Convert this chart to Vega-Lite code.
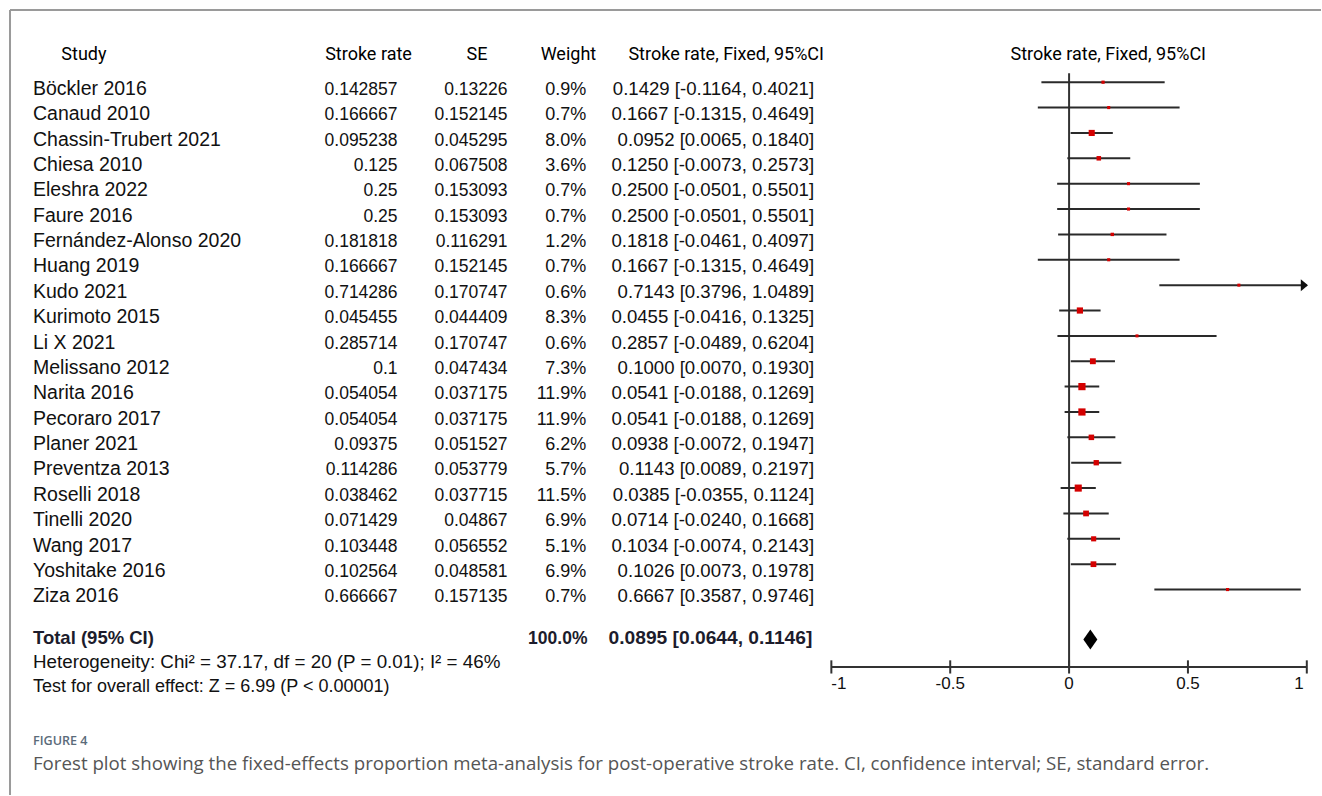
{
  "$schema": "https://vega.github.io/schema/vega-lite/v6.json",
  "width": 1322,
  "height": 796,
  "autosize": {"type": "fit", "contains": "padding"},
  "padding": 0,
  "background": "white",
  "config": {
    "view": {"stroke": null},
    "axis": {"disable": true},
    "legend": {"disable": true},
    "text": {"font": "Liberation Sans", "fontSize": 18, "color": "#111"}
  },
  "datasets": {
    "studies": [
      {"row": 1, "study": "Böckler 2016", "rate": 0.142857, "se": 0.13226, "weight": 0.009, "est": 0.1429, "lo": -0.1164, "hi": 0.4021, "ci": "0.1429 [-0.1164, 0.4021]"},
      {"row": 2, "study": "Canaud 2010", "rate": 0.166667, "se": 0.152145, "weight": 0.007, "est": 0.1667, "lo": -0.1315, "hi": 0.4649, "ci": "0.1667 [-0.1315, 0.4649]"},
      {"row": 3, "study": "Chassin-Trubert 2021", "rate": 0.095238, "se": 0.045295, "weight": 0.080, "est": 0.0952, "lo": 0.0065, "hi": 0.1840, "ci": "0.0952 [0.0065, 0.1840]"},
      {"row": 4, "study": "Chiesa 2010", "rate": 0.125, "se": 0.067508, "weight": 0.036, "est": 0.1250, "lo": -0.0073, "hi": 0.2573, "ci": "0.1250 [-0.0073, 0.2573]"},
      {"row": 5, "study": "Eleshra 2022", "rate": 0.25, "se": 0.153093, "weight": 0.007, "est": 0.2500, "lo": -0.0501, "hi": 0.5501, "ci": "0.2500 [-0.0501, 0.5501]"},
      {"row": 6, "study": "Faure 2016", "rate": 0.25, "se": 0.153093, "weight": 0.007, "est": 0.2500, "lo": -0.0501, "hi": 0.5501, "ci": "0.2500 [-0.0501, 0.5501]"},
      {"row": 7, "study": "Fernández-Alonso 2020", "rate": 0.181818, "se": 0.116291, "weight": 0.012, "est": 0.1818, "lo": -0.0461, "hi": 0.4097, "ci": "0.1818 [-0.0461, 0.4097]"},
      {"row": 8, "study": "Huang 2019", "rate": 0.166667, "se": 0.152145, "weight": 0.007, "est": 0.1667, "lo": -0.1315, "hi": 0.4649, "ci": "0.1667 [-0.1315, 0.4649]"},
      {"row": 9, "study": "Kudo 2021", "rate": 0.714286, "se": 0.170747, "weight": 0.006, "est": 0.7143, "lo": 0.3796, "hi": 1.0489, "ci": "0.7143 [0.3796, 1.0489]"},
      {"row": 10, "study": "Kurimoto 2015", "rate": 0.045455, "se": 0.044409, "weight": 0.083, "est": 0.0455, "lo": -0.0416, "hi": 0.1325, "ci": "0.0455 [-0.0416, 0.1325]"},
      {"row": 11, "study": "Li X 2021", "rate": 0.285714, "se": 0.170747, "weight": 0.006, "est": 0.2857, "lo": -0.0489, "hi": 0.6204, "ci": "0.2857 [-0.0489, 0.6204]"},
      {"row": 12, "study": "Melissano 2012", "rate": 0.1, "se": 0.047434, "weight": 0.073, "est": 0.1000, "lo": 0.0070, "hi": 0.1930, "ci": "0.1000 [0.0070, 0.1930]"},
      {"row": 13, "study": "Narita 2016", "rate": 0.054054, "se": 0.037175, "weight": 0.119, "est": 0.0541, "lo": -0.0188, "hi": 0.1269, "ci": "0.0541 [-0.0188, 0.1269]"},
      {"row": 14, "study": "Pecoraro 2017", "rate": 0.054054, "se": 0.037175, "weight": 0.119, "est": 0.0541, "lo": -0.0188, "hi": 0.1269, "ci": "0.0541 [-0.0188, 0.1269]"},
      {"row": 15, "study": "Planer 2021", "rate": 0.09375, "se": 0.051527, "weight": 0.062, "est": 0.0938, "lo": -0.0072, "hi": 0.1947, "ci": "0.0938 [-0.0072, 0.1947]"},
      {"row": 16, "study": "Preventza 2013", "rate": 0.114286, "se": 0.053779, "weight": 0.057, "est": 0.1143, "lo": 0.0089, "hi": 0.2197, "ci": "0.1143 [0.0089, 0.2197]"},
      {"row": 17, "study": "Roselli 2018", "rate": 0.038462, "se": 0.037715, "weight": 0.115, "est": 0.0385, "lo": -0.0355, "hi": 0.1124, "ci": "0.0385 [-0.0355, 0.1124]"},
      {"row": 18, "study": "Tinelli 2020", "rate": 0.071429, "se": 0.04867, "weight": 0.069, "est": 0.0714, "lo": -0.0240, "hi": 0.1668, "ci": "0.0714 [-0.0240, 0.1668]"},
      {"row": 19, "study": "Wang 2017", "rate": 0.103448, "se": 0.056552, "weight": 0.051, "est": 0.1034, "lo": -0.0074, "hi": 0.2143, "ci": "0.1034 [-0.0074, 0.2143]"},
      {"row": 20, "study": "Yoshitake 2016", "rate": 0.102564, "se": 0.048581, "weight": 0.069, "est": 0.1026, "lo": 0.0073, "hi": 0.1978, "ci": "0.1026 [0.0073, 0.1978]"},
      {"row": 21, "study": "Ziza 2016", "rate": 0.666667, "se": 0.157135, "weight": 0.007, "est": 0.6667, "lo": 0.3587, "hi": 0.9746, "ci": "0.6667 [0.3587, 0.9746]"}
    ],
    "total": [
      {"label": "Total (95% CI)", "weight": 1.0, "est": 0.0895, "lo": 0.0644, "hi": 0.1146, "ci": "0.0895 [0.0644, 0.1146]"}
    ],
    "ticks": [
      {"v": -1, "label": "-1"},
      {"v": -0.5, "label": "-0.5"},
      {"v": 0, "label": "0"},
      {"v": 0.5, "label": "0.5"},
      {"v": 1, "label": "1"}
    ],
    "blank": [{}]
  },
  "layer": [
    {
      "data": {"name": "blank"},
      "mark": {"type": "rule", "color": "#9a9a9a", "strokeWidth": 2},
      "encoding": {
        "x": {"datum": -4.455, "type": "quantitative", "scale": {"domain": [-4.4971, 1.0597], "nice": false, "zero": false}},
        "y": {"datum": -1.8465, "type": "quantitative", "scale": {"domain": [-2.2402, 29.0984], "nice": false, "zero": false, "reverse": true}},
        "y2": {"datum": 29.0984}
      }
    },
    {
      "data": {"name": "blank"},
      "mark": {"type": "rule", "color": "#9a9a9a", "strokeWidth": 2},
      "encoding": {
        "x": {"datum": -4.455, "type": "quantitative"},
        "x2": {"datum": 1.0597},
        "y": {"datum": -1.8465, "type": "quantitative"}
      }
    },
    {
      "data": {"name": "blank"},
      "mark": {"type": "rule", "color": "#333", "strokeWidth": 2},
      "encoding": {
        "x": {"datum": 0, "type": "quantitative"},
        "y": {"datum": 0.646, "type": "quantitative"},
        "y2": {"datum": 24.05}
      }
    },
    {
      "data": {"name": "blank"},
      "mark": {"type": "rule", "color": "#333", "strokeWidth": 2},
      "encoding": {
        "x": {"datum": -1, "type": "quantitative"},
        "x2": {"datum": 1},
        "y": {"datum": 24.05, "type": "quantitative"}
      }
    },
    {
      "data": {"name": "ticks"},
      "mark": {"type": "rule", "color": "#333", "strokeWidth": 2},
      "encoding": {
        "x": {"field": "v", "type": "quantitative"},
        "y": {"datum": 23.79, "type": "quantitative"},
        "y2": {"datum": 24.31}
      }
    },
    {
      "data": {"name": "ticks"},
      "transform": [{"filter": "datum.v > -1 && datum.v < 1"}],
      "mark": {"type": "text", "align": "center", "baseline": "alphabetic", "fontSize": 17},
      "encoding": {
        "x": {"field": "v", "type": "quantitative"},
        "y": {"datum": 24.92, "type": "quantitative"},
        "text": {"field": "label", "type": "nominal"}
      }
    },
    {
      "data": {"name": "ticks"},
      "transform": [{"filter": "datum.v == -1"}],
      "mark": {"type": "text", "align": "left", "baseline": "alphabetic", "fontSize": 17},
      "encoding": {
        "x": {"field": "v", "type": "quantitative"},
        "y": {"datum": 24.92, "type": "quantitative"},
        "text": {"field": "label", "type": "nominal"}
      }
    },
    {
      "data": {"name": "ticks"},
      "transform": [{"filter": "datum.v == 1"}],
      "mark": {"type": "text", "align": "right", "baseline": "alphabetic", "fontSize": 17, "dx": -3},
      "encoding": {
        "x": {"field": "v", "type": "quantitative"},
        "y": {"datum": 24.92, "type": "quantitative"},
        "text": {"field": "label", "type": "nominal"}
      }
    },
    {
      "data": {"name": "studies"},
      "transform": [{"filter": "datum.hi <= 1"}],
      "mark": {"type": "rule", "color": "#2a2a2a", "strokeWidth": 2},
      "encoding": {
        "x": {"field": "lo", "type": "quantitative"},
        "x2": {"field": "hi"},
        "y": {"field": "row", "type": "quantitative"}
      }
    },
    {
      "data": {"name": "studies"},
      "transform": [{"filter": "datum.hi > 1"}],
      "mark": {"type": "rule", "color": "#2a2a2a", "strokeWidth": 2},
      "encoding": {
        "x": {"field": "lo", "type": "quantitative"},
        "x2": {"datum": 1},
        "y": {"field": "row", "type": "quantitative"}
      }
    },
    {
      "data": {"name": "studies"},
      "transform": [{"filter": "datum.hi > 1"}],
      "mark": {"type": "point", "shape": "M-1.2,-1L0,0L-1.2,1Z", "filled": true, "color": "#111", "opacity": 1, "size": 144},
      "encoding": {
        "x": {"datum": 1.005, "type": "quantitative"},
        "y": {"field": "row", "type": "quantitative"}
      }
    },
    {
      "data": {"name": "studies"},
      "mark": {"type": "point", "shape": "square", "filled": true, "color": "#d40000", "opacity": 1},
      "encoding": {
        "x": {"field": "est", "type": "quantitative"},
        "y": {"field": "row", "type": "quantitative"},
        "size": {"field": "weight", "type": "quantitative", "scale": {"domain": [0, 0.119], "range": [7, 52], "zero": false}}
      }
    },
    {
      "data": {"name": "total"},
      "mark": {"type": "point", "shape": "M-0.7,0L0,-1L0.7,0L0,1Z", "filled": true, "color": "#000", "opacity": 1, "size": 400},
      "encoding": {
        "x": {"field": "est", "type": "quantitative"},
        "y": {"datum": 22.97, "type": "quantitative"}
      }
    },
    {
      "data": {"name": "studies"},
      "mark": {"type": "text", "align": "left", "baseline": "alphabetic", "dy": 12.7, "fontSize": 19.5},
      "encoding": {
        "x": {"datum": -4.3584, "type": "quantitative"},
        "y": {"field": "row", "type": "quantitative"},
        "text": {"field": "study", "type": "nominal"}
      }
    },
    {
      "data": {"name": "studies"},
      "mark": {"type": "text", "align": "right", "baseline": "alphabetic", "dy": 12.7, "fontSize": 17.5},
      "encoding": {
        "x": {"datum": -2.8248, "type": "quantitative"},
        "y": {"field": "row", "type": "quantitative"},
        "text": {"field": "rate", "type": "nominal"}
      }
    },
    {
      "data": {"name": "studies"},
      "mark": {"type": "text", "align": "right", "baseline": "alphabetic", "dy": 12.7, "fontSize": 17.5},
      "encoding": {
        "x": {"datum": -2.3626, "type": "quantitative"},
        "y": {"field": "row", "type": "quantitative"},
        "text": {"field": "se", "type": "nominal"}
      }
    },
    {
      "data": {"name": "studies"},
      "mark": {"type": "text", "align": "right", "baseline": "alphabetic", "dy": 12.7},
      "encoding": {
        "x": {"datum": -2.0307, "type": "quantitative"},
        "y": {"field": "row", "type": "quantitative"},
        "text": {"field": "weight", "type": "quantitative", "format": ".1%"}
      }
    },
    {
      "data": {"name": "studies"},
      "mark": {"type": "text", "align": "right", "baseline": "alphabetic", "dy": 12.7, "fontSize": 18.6},
      "encoding": {
        "x": {"datum": -1.0727, "type": "quantitative"},
        "y": {"field": "row", "type": "quantitative"},
        "text": {"field": "ci", "type": "nominal"}
      }
    },
    {
      "data": {"name": "blank"},
      "mark": {"type": "text", "text": "Study", "align": "center", "baseline": "alphabetic", "font": "Roboto", "fontSize": 18, "color": "#000"},
      "encoding": {"x": {"datum": -4.144, "type": "quantitative"}, "y": {"datum": 0.122, "type": "quantitative"}}
    },
    {
      "data": {"name": "blank"},
      "mark": {"type": "text", "text": "Stroke rate", "align": "center", "baseline": "alphabetic", "font": "Roboto", "fontSize": 18, "color": "#000"},
      "encoding": {"x": {"datum": -2.947, "type": "quantitative"}, "y": {"datum": 0.122, "type": "quantitative"}}
    },
    {
      "data": {"name": "blank"},
      "mark": {"type": "text", "text": "SE", "align": "center", "baseline": "alphabetic", "font": "Roboto", "fontSize": 18, "color": "#000"},
      "encoding": {"x": {"datum": -2.491, "type": "quantitative"}, "y": {"datum": 0.122, "type": "quantitative"}}
    },
    {
      "data": {"name": "blank"},
      "mark": {"type": "text", "text": "Weight", "align": "center", "baseline": "alphabetic", "font": "Roboto", "fontSize": 18, "color": "#000"},
      "encoding": {"x": {"datum": -2.106, "type": "quantitative"}, "y": {"datum": 0.122, "type": "quantitative"}}
    },
    {
      "data": {"name": "blank"},
      "mark": {"type": "text", "text": "Stroke rate, Fixed, 95%CI", "align": "center", "baseline": "alphabetic", "font": "Roboto", "fontSize": 18, "color": "#000"},
      "encoding": {"x": {"datum": -1.4424, "type": "quantitative"}, "y": {"datum": 0.122, "type": "quantitative"}}
    },
    {
      "data": {"name": "blank"},
      "mark": {"type": "text", "text": "Stroke rate, Fixed, 95%CI", "align": "center", "baseline": "alphabetic", "font": "Roboto", "fontSize": 18, "color": "#000"},
      "encoding": {"x": {"datum": 0.1647, "type": "quantitative"}, "y": {"datum": 0.122, "type": "quantitative"}}
    },
    {
      "data": {"name": "total"},
      "mark": {"type": "text", "align": "left", "baseline": "alphabetic", "fontWeight": "bold", "fontSize": 18.5, "color": "#1c1c2c"},
      "encoding": {
        "x": {"datum": -4.3584, "type": "quantitative"},
        "y": {"datum": 23.15, "type": "quantitative"},
        "text": {"field": "label", "type": "nominal"}
      }
    },
    {
      "data": {"name": "total"},
      "mark": {"type": "text", "align": "right", "baseline": "alphabetic", "fontWeight": "bold", "fontSize": 17.5, "color": "#1c1c2c"},
      "encoding": {
        "x": {"datum": -2.026, "type": "quantitative"},
        "y": {"datum": 23.15, "type": "quantitative"},
        "text": {"field": "weight", "type": "quantitative", "format": ".1%"}
      }
    },
    {
      "data": {"name": "total"},
      "mark": {"type": "text", "align": "right", "baseline": "alphabetic", "fontWeight": "bold", "fontSize": 19.2, "color": "#1c1c2c"},
      "encoding": {
        "x": {"datum": -1.08, "type": "quantitative"},
        "y": {"datum": 23.15, "type": "quantitative"},
        "text": {"field": "ci", "type": "nominal"}
      }
    },
    {
      "data": {"name": "blank"},
      "mark": {"type": "text", "text": "Heterogeneity: Chi² = 37.17, df = 20 (P = 0.01); I² = 46%", "align": "left", "baseline": "alphabetic", "fontSize": 18.8},
      "encoding": {"x": {"datum": -4.3584, "type": "quantitative"}, "y": {"datum": 24.08, "type": "quantitative"}}
    },
    {
      "data": {"name": "blank"},
      "mark": {"type": "text", "text": "Test for overall effect: Z = 6.99 (P < 0.00001)", "align": "left", "baseline": "alphabetic", "fontSize": 18},
      "encoding": {"x": {"datum": -4.3584, "type": "quantitative"}, "y": {"datum": 25.02, "type": "quantitative"}}
    },
    {
      "data": {"name": "blank"},
      "mark": {"type": "text", "text": "FIGURE 4", "align": "left", "baseline": "alphabetic", "font": "Open Sans", "fontWeight": 600, "fontSize": 12.6, "color": "#5b6b7a"},
      "encoding": {"x": {"datum": -4.3584, "type": "quantitative"}, "y": {"datum": 27.13, "type": "quantitative"}}
    },
    {
      "data": {"name": "blank"},
      "mark": {"type": "text", "text": "Forest plot showing the fixed-effects proportion meta-analysis for post-operative stroke rate. CI, confidence interval; SE, standard error.", "align": "left", "baseline": "alphabetic", "font": "Open Sans", "fontSize": 18.7, "color": "#555"},
      "encoding": {"x": {"datum": -4.3584, "type": "quantitative"}, "y": {"datum": 28.11, "type": "quantitative"}}
    }
  ]
}
